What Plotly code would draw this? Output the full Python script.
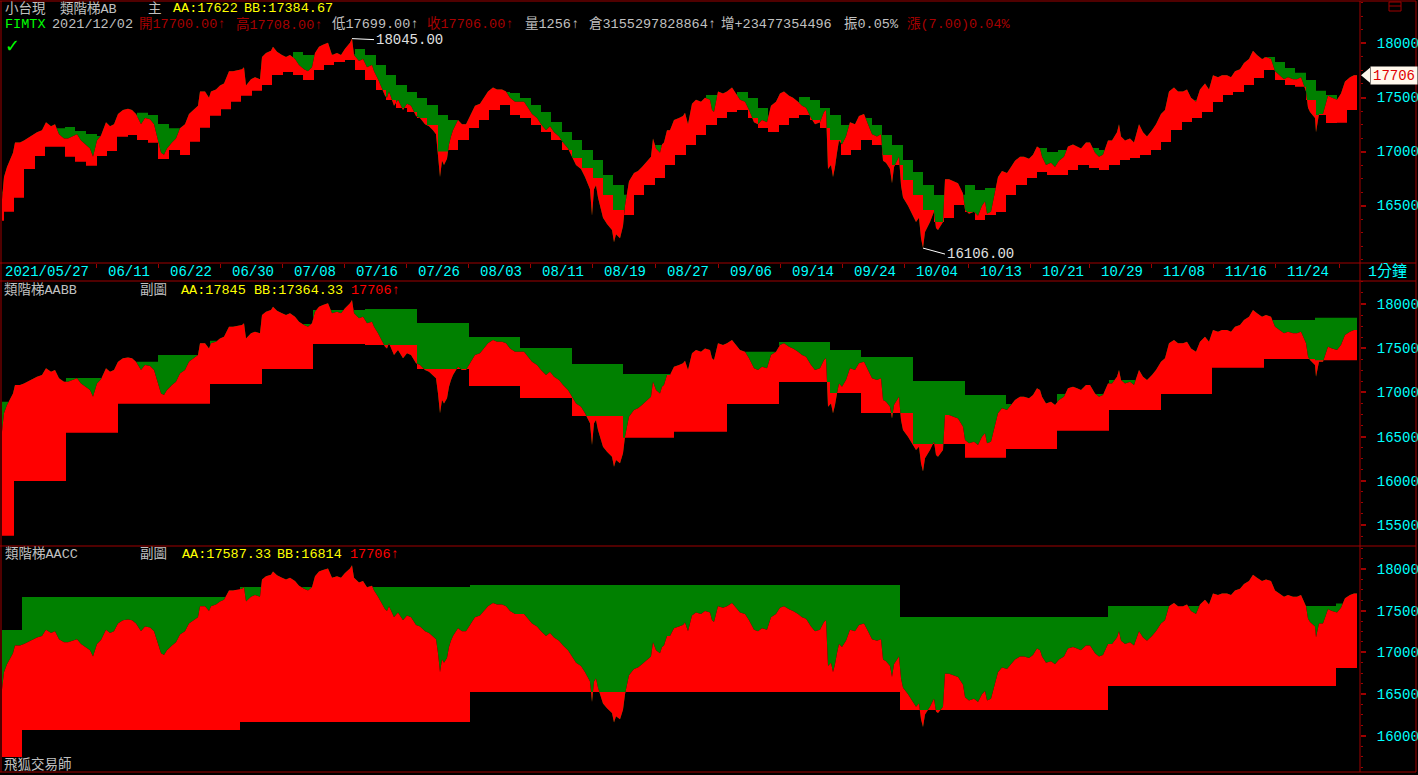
import plotly.graph_objects as go

W, H = 1418, 775
X_END = 1357

# ---- price path (chart column index of 1-min bars, price) ----
bar = [2, 4, 7, 13, 15, 20, 24, 29, 33, 37, 42, 46, 51, 55, 59, 64, 68, 73, 77, 81, 86, 90, 93, 97, 101, 106, 110, 114,
       118, 123, 128, 132, 136, 141, 145, 150, 154, 158, 161, 164, 167, 172, 176, 180, 185, 189, 194, 198, 200, 205, 209,
       211, 216, 220, 224, 229, 233, 238, 242, 244, 246, 251, 255, 260, 262, 266, 271, 273, 277, 282, 286, 290, 295, 299,
       304, 308, 312, 315, 319, 323, 328, 332, 337, 341, 345, 350, 352, 354, 359, 363, 367, 372, 374, 378, 383, 385, 387,
       389, 394, 398, 403, 407, 411, 416, 420, 425, 429, 433, 436, 438, 440, 442, 444, 447, 449, 451, 453, 458, 462, 466,
       469, 471, 475, 480, 484, 488, 493, 497, 502, 506, 510, 515, 519, 524, 528, 532, 537, 541, 546, 550, 554, 559, 563,
       568, 572, 576, 581, 585, 590, 592, 594, 596, 598, 603, 607, 612, 614, 616, 620, 623, 625, 629, 634, 638, 642, 647,
       651, 653, 656, 660, 662, 664, 667,
       670, 674, 679, 683, 685, 688, 692, 696, 701, 705, 710, 712, 714, 718, 723, 727, 732, 736, 740, 745, 749, 754, 758,
       762, 767, 771, 776, 780, 784, 789, 793, 798, 802, 806, 811, 815, 820, 824, 826, 828, 831, 833, 835, 837, 839, 842,
       846, 850, 855, 859, 864, 868, 872, 877, 881, 883, 886, 890, 892, 894, 899, 901, 903, 908, 912, 916, 919, 921, 923,
       925, 930, 934, 936, 938, 943, 945, 949, 954, 958, 963, 965, 969, 974, 978, 982, 985, 987, 991, 996, 998, 1002,
       1007, 1011, 1015, 1020, 1024, 1029, 1033, 1037, 1040, 1042, 1046, 1051, 1055, 1059, 1064, 1068, 1073, 1077, 1081,
       1086, 1090, 1095, 1099, 1103, 1108, 1112, 1117, 1119, 1121, 1125, 1130, 1134, 1139, 1143, 1147, 1152, 1156, 1161,
       1165, 1169, 1174, 1178, 1183, 1187, 1191, 1196, 1200, 1205, 1209, 1213, 1218, 1222, 1227, 1231, 1235, 1240, 1244,
       1249, 1253, 1257, 1262, 1266, 1271, 1275, 1279, 1284, 1288, 1293, 1297, 1301, 1306, 1308, 1310, 1315, 1316, 1319,
       1323, 1328, 1332, 1337, 1341, 1345, 1350, 1354, 1357]
price = [16556, 16763, 16857, 16989, 17084, 17084, 17102, 17133, 17159, 17178, 17197, 17272, 17234, 17253, 17159, 17121,
         17121, 17140, 17159, 17102, 17065, 17027, 16952, 17102, 17148, 17272, 17234, 17253,
         17347, 17385, 17396, 17385, 17347, 17253, 17310, 17298, 17253, 17102, 16989, 16970, 17027, 17084, 17121, 17215,
         17253, 17347, 17385, 17423, 17555, 17555, 17498,
         17555, 17574, 17611, 17630, 17743, 17743, 17751, 17762, 17781, 17611, 17668, 17687, 17668, 17875, 17913, 17932,
         17970, 17924, 17894, 17875, 17894, 17856, 17800,
         17762, 17743, 17781, 17913, 17970, 17988, 18007, 17894, 17913, 17894, 17951, 18007, 18045, 17894, 17838, 17856,
         17781, 17800, 17743, 17668, 17555, 17517, 17498,
         17555, 17423, 17479, 17385, 17442, 17423, 17329, 17310, 17253, 17234, 17197, 17159, 16989, 16763, 16914, 16876,
         16933, 17065, 17140, 17197, 17291, 17253, 17253,
         17310, 17347, 17423, 17442, 17498, 17555, 17592, 17574, 17574, 17555, 17498, 17461, 17461, 17461, 17404, 17347,
         17310, 17253, 17197, 17234, 17178, 17140, 17084,
         17027, 16952, 16876, 16838, 16763, 16650, 16405, 16650, 16688, 16575, 16386, 16330, 16273, 16160, 16235, 16198,
         16311, 16499, 16725, 16801, 16820, 16857, 16914,
         16952, 17121, 17027, 16989, 17065, 17084, 17197,
         17197, 17291, 17310, 17329, 17359, 17253, 17442, 17479, 17461, 17498, 17479, 17385, 17366, 17555, 17536, 17555,
         17592, 17536, 17479, 17461, 17385, 17272, 17253,
         17291, 17272, 17423, 17461, 17536, 17555, 17517, 17498, 17461, 17423, 17404, 17310, 17253, 17272, 17366, 17385,
         16838, 16876, 16763, 16857, 16989, 17102, 17065,
         17140, 17272, 17253, 17329, 17347, 17253, 17159, 17140, 17159, 16914, 16895, 16838, 16706, 16857, 16952, 16688,
         16575, 16499, 16424, 16348, 16386, 16198, 16106,
         16254, 16348, 16443, 16292, 16273, 16348, 16744, 16744, 16725, 16706, 16612, 16462, 16424, 16443, 16405, 16499,
         16537, 16424, 16443, 16650, 16763, 16820,
         16801, 16857, 16914, 16952, 16952, 16933, 16970, 17046, 17027, 16952, 16876, 16895, 16857, 16914, 16952, 17046,
         17065, 17046, 17027,
         17084, 17084, 16989, 16952, 16970, 17102, 17102, 17178, 17253, 17140, 17102, 17121, 17084, 17253, 17178, 17140,
         17197, 17253, 17347,
         17385, 17555, 17592, 17555, 17555, 17574, 17498, 17461, 17574, 17630, 17574, 17706, 17687, 17706, 17706, 17687,
         17743, 17762, 17819,
         17856, 17932, 17894, 17856, 17875, 17856, 17743, 17706, 17668, 17687, 17668, 17668, 17687, 17555, 17404, 17366,
         17310, 17178, 17347,
         17347, 17517, 17498, 17479, 17536, 17649, 17687, 17706, 17706]

# ---- panel 1 ladder (daily) ----
d_start = [2, 4, 14, 24, 35, 45, 55, 65, 75, 86, 97, 107, 117, 128, 137, 148, 158, 169, 180, 190, 200, 210, 221, 231,
           241, 252, 262, 272, 283, 293, 303, 314, 324, 334, 345, 355, 365, 376, 386, 396, 407, 417, 427, 438, 448, 458,
           469, 479, 489, 500, 510, 520, 531, 541, 551, 562, 572, 582, 593, 603, 613, 624, 634, 644, 655, 665, 675, 686,
           696, 706, 717, 727, 737, 748, 758, 768, 779, 789, 799, 810, 820, 830, 841, 851, 861, 872, 882, 892, 903, 913,
           923, 934, 944, 954, 965, 975, 985, 996, 1006, 1016, 1027, 1037, 1047, 1058, 1068, 1078, 1089, 1099, 1109,
           1120, 1130, 1140, 1151, 1161, 1171, 1182, 1192, 1202, 1213, 1223, 1233, 1244, 1254, 1264, 1275, 1285, 1295,
           1306, 1316, 1326, 1337, 1347]
d_AA = [16628, 16628, 16600, 16900, 17000, 17100, 17215, 17227, 17190, 17162, 17143, 17100, 17200, 17250, 17359, 17338,
        17255, 17215, 17100, 17200, 17300, 17505, 17579, 17550, 17600, 17650, 17700, 17850, 17850, 17921, 17894, 17880,
        17900, 17880, 17900, 17950, 17894, 17801, 17708, 17616, 17551, 17495, 17431, 17338, 17292, 17200, 17280, 17400,
        17500, 17551, 17542, 17495, 17431, 17366, 17273, 17180, 17106, 17014, 16921, 16782, 16690, 16600, 16700, 16850,
        17060, 17000, 17150, 17200, 17350, 17523, 17450, 17480, 17551, 17495, 17403, 17300, 17400, 17420, 17505, 17477,
        17403, 17338, 17245, 17200, 17310, 17245, 17153, 17060, 16921, 16810, 16690, 16597, 16550, 16600, 16690, 16643,
        16662, 16600, 16700, 16800, 16900, 17032, 16995, 17014, 16950, 16980, 17032, 17014, 17000, 17106, 17088, 17100,
        17150, 17250, 17400, 17450, 17477, 17500, 17600, 17620, 17650, 17700, 17800, 17875, 17829, 17773, 17730, 17662,
        17563, 17523, 17450, 17622]
d_BB = [16359, 16442, 16572, 16838, 16958, 17044, 17044, 16952, 16905, 16868, 16958, 17005, 17137, 17153, 17106, 17081,
        16930, 17014, 16968, 17091, 17220, 17331, 17391, 17461, 17517, 17563, 17616, 17708, 17736, 17708, 17662, 17755,
        17801, 17829, 17847, 17755, 17662, 17569, 17477, 17403, 17366, 17310, 17245, 17000, 17014, 17106, 17218, 17292,
        17384, 17431, 17338, 17310, 17245, 17180, 17106, 17014, 16940, 16847, 16755, 16597, 16458, 16412, 16597, 16690,
        16755, 16875, 16968, 17060, 17153, 17245, 17310, 17366, 17384, 17310, 17218, 17180, 17245, 17310, 17338, 17292,
        17218, 17106, 16968, 17014, 17106, 17060, 16968, 16875, 16736, 16597, 16458, 16347, 16384, 16505, 16440, 16366,
        16412, 16440, 16597, 16690, 16755, 16810, 16782, 16782, 16829, 16875, 16847, 16829, 16875, 16921, 16940, 16968,
        17014, 17088, 17199, 17273, 17310, 17366, 17458, 17523, 17551, 17616, 17681, 17755, 17662, 17616, 17600, 17477,
        17338, 17264, 17267, 17385]

# ---- panel 2 ladder (weekly) ----
w_start = [2, 14, 66, 118, 158, 210, 262, 313, 365, 417, 469, 520, 572, 623, 674, 727, 779, 830, 861, 913, 965, 1006,
           1057, 1109, 1161, 1212, 1264, 1315]
w_AA = [16895, 16950, 17163, 17347, 17423, 17585, 17773, 17932, 17943, 17785, 17626, 17502, 17321, 17208, 17150, 17461,
        17570, 17479, 17400, 17129, 16970, 16869, 16982, 17140, 17200, 17500, 17819, 17845]
w_BB = [15380, 15998, 16544, 16872, 16872, 17095, 17265, 17547, 17536, 17265, 17072, 16937, 16733, 16488, 16556, 16869,
        17117, 16993, 16767, 16416, 16262, 16360, 16567, 16801, 16982, 17280, 17378, 17364.33]

# ---- panel 3 ladder (monthly) ----
m_start = [2, 22, 240, 470, 900, 1108, 1336]
m_AA = [17269, 17664, 17784, 17808, 17424, 17556, 17587.33]
m_BB = [15746, 16070, 16166, 16525, 16310, 16597, 16814]

# ---- date axis ----
date_tick = [96, 158, 220, 282, 344, 406, 468, 530, 592, 655, 718, 780, 842, 904, 968, 1030, 1089, 1151, 1213, 1275, 1339]
date_lbl = ["06/11", "06/22", "06/30", "07/08", "07/16", "07/26", "08/03", "08/11", "08/19", "08/27", "09/06",
            "09/14", "09/24", "10/04", "10/13", "10/21", "10/29", "11/08", "11/16", "11/24"]

BORDER = "#a00000"
GREEN = "#008000"
RED = "#ff0000"
CYAN = "#00ffff"
GRAY = "#c0c0c0"
YEL = "#ffff00"
DRED = "#a80000"
FONT = "Liberation Mono, Noto Sans CJK TC, monospace"


def stair(starts, vals):
    return list(starts) + [X_END], list(vals) + [vals[-1]]


fig = go.Figure()
for xa, ya, st, aa, bb in [("x", "y", d_start, d_AA, d_BB), ("x2", "y2", w_start, w_AA, w_BB),
                           ("x3", "y3", m_start, m_AA, m_BB)]:
    sx, sa = stair(st, aa)
    _, sb = stair(st, bb)
    common = dict(xaxis=xa, yaxis=ya, hoverinfo="skip", showlegend=False, mode="lines")
    fig.add_trace(go.Scatter(x=sx, y=sa, line=dict(width=0, shape="hv"), **common))
    fig.add_trace(go.Scatter(x=bar, y=price, line=dict(width=0), fill="tonexty", fillcolor=GREEN, **common))
    fig.add_trace(go.Scatter(x=sx, y=sb, line=dict(width=0, shape="hv"), **common))
    fig.add_trace(go.Scatter(x=bar, y=price, line=dict(width=0), fill="tonexty", fillcolor=RED, **common))


def px(x):
    return x / W


def py(y):
    return 1 - y / H


def yax(dom_top, dom_bot, rng, vals):
    return dict(domain=[py(dom_bot), py(dom_top)], range=rng, side="right", showgrid=False, zeroline=False,
                showline=False, ticks="outside", ticklen=5, tickwidth=2, tickcolor=BORDER,
                tickvals=vals, ticktext=[str(v) for v in vals],
                tickfont=dict(family="Liberation Mono", size=14, color=CYAN), ticklabelstandoff=8,
                minor=dict(ticks="outside", ticklen=2, tickwidth=1, tickcolor=BORDER, dtick=125, tick0=0),
                fixedrange=True)


xdom = [px(2), px(1360)]
fig.update_layout(
    width=W, height=H, margin=dict(l=0, r=0, t=0, b=0), autosize=False,
    paper_bgcolor="black", plot_bgcolor="black", hovermode=False,
    xaxis=dict(domain=xdom, range=[2, 1360], anchor="y", showgrid=False, zeroline=False, showticklabels=False,
               ticks="outside", ticklen=4, tickwidth=1, tickcolor=BORDER, tickvals=date_tick, showline=False,
               fixedrange=True),
    xaxis2=dict(domain=xdom, range=[2, 1360], anchor="y2", matches="x", visible=False),
    xaxis3=dict(domain=xdom, range=[2, 1360], anchor="y3", matches="x", visible=False),
    yaxis=dict(anchor="x", **yax(2, 263, [15968, 18384], [16500, 17000, 17500, 18000])),
    yaxis2=dict(anchor="x2", **yax(281, 546, [15263, 18260], [15500, 16000, 16500, 17000, 17500, 18000])),
    yaxis3=dict(anchor="x3", **yax(546, 772, [15566, 18276], [16000, 16500, 17000, 17500, 18000])),
)

# frame lines
shapes = []
for yy in [1, 263, 281, 546, 772]:
    shapes.append(dict(type="line", xref="paper", yref="paper", x0=0, x1=px(1416), y0=py(yy), y1=py(yy),
                       line=dict(color=BORDER, width=1)))
for xx in [1, 1360, 1416]:
    shapes.append(dict(type="line", xref="paper", yref="paper", x0=px(xx), x1=px(xx), y0=py(772), y1=py(1),
                       line=dict(color=BORDER, width=1)))
shapes.append(dict(type="rect", xref="paper", yref="paper", x0=px(1389), x1=px(1401), y0=py(11), y1=py(2),
                   line=dict(color=BORDER, width=1)))
shapes.append(dict(type="line", xref="paper", yref="paper", x0=px(1389), x1=px(1401), y0=py(6), y1=py(6),
                   line=dict(color=BORDER, width=1)))
# last price tag arrow
last = price[-1]
d = 7.5 / 0.108
shapes.append(dict(type="path", xref="paper", yref="y",
                   path=f"M {px(1361)},{last} L {px(1370)},{last + d} L {px(1370)},{last - d} Z",
                   fillcolor="#fff8ec", line=dict(width=0)))
fig.update_layout(shapes=shapes)

ann = []


def txt(x, y, s, color, size=13.5, family=FONT, anchor="left"):
    ann.append(dict(x=px(x), y=py(y), xref="paper", yref="paper", text=s, showarrow=False, xanchor=anchor,
                    yanchor="middle", font=dict(family=family, size=size, color=color)))


# header panel 1
txt(3, 9, "小台現", GRAY)
txt(58, 9, "類階梯AB", GRAY)
txt(146, 9, "主", GRAY)
txt(171, 9, "AA:17622", YEL)
txt(242, 9, "BB:17384.67", YEL)
txt(3, 24, "FIMTX", "#00ff00")
txt(50, 24, "2021/12/02", GRAY)
txt(137, 24, "開17700.00↑", DRED)
txt(234, 24, "高17708.00↑", DRED)
txt(330, 24, "低17699.00↑", GRAY)
txt(425, 24, "收17706.00↑", DRED)
txt(523, 24, "量1256↑", GRAY)
txt(587, 24, "倉3155297828864↑", GRAY)
txt(719, 24, "增+23477354496", GRAY)
txt(842, 24, "振0.05%", GRAY)
txt(905, 24, "漲(7.00)0.04%", DRED)
txt(3, 45, "✓", "#00ff00", size=18, family="DejaVu Sans")
# header panel 2
txt(2, 290, "類階梯AABB", GRAY)
txt(138, 290, "副圖", GRAY)
txt(179, 290, "AA:17845", YEL)
txt(252, 290, "BB:17364.33", YEL)
txt(349, 290, "17706↑", RED)
# header panel 3
txt(3, 554, "類階梯AACC", GRAY)
txt(138, 554, "副圖", GRAY)
txt(180, 554, "AA:17587.33", YEL)
txt(275, 554, "BB:16814", YEL)
txt(348, 554, "17706↑", RED)
txt(2, 764, "飛狐交易師", GRAY)
txt(1366, 272, "1分鐘", CYAN, size=15)

# date labels (drawn just right of their tick)
ann.append(dict(x=bar[0], y=py(272), xref="x", yref="paper", text="2021/05/27", showarrow=False, xanchor="left",
                yanchor="middle", xshift=1, font=dict(family=FONT, size=14, color=CYAN)))
for p_, l_ in zip(date_tick, date_lbl):
    ann.append(dict(x=p_, y=py(272), xref="x", yref="paper", text=l_, showarrow=False, xanchor="left",
                    yanchor="middle", xshift=10, font=dict(family=FONT, size=14, color=CYAN)))

# last price tag
ann.append(dict(x=px(1370), y=last, xref="paper", yref="y", text=f"{last:.0f}", showarrow=False, xanchor="left",
                yanchor="middle", bgcolor="#fff8ec", width=44, height=15,
                font=dict(family="Liberation Mono", size=14, color="#e00000")))

# extremes
imax = price.index(max(price))
imin = price.index(min(price))
ann.append(dict(x=bar[imax], y=price[imax], xref="x", yref="y", text=f"{price[imax]:.2f}", showarrow=True,
                arrowhead=0, arrowwidth=1, arrowcolor="white", ax=22, ay=1, xanchor="left",
                font=dict(family=FONT, size=14, color="#e0e0e0")))
ann.append(dict(x=bar[imin], y=price[imin], xref="x", yref="y", text=f"{price[imin]:.2f}", showarrow=True,
                arrowhead=0, arrowwidth=1, arrowcolor="white", ax=22, ay=6, xanchor="left",
                font=dict(family=FONT, size=14, color="#e0e0e0")))
fig.update_layout(annotations=ann)

fig.write_html("out.html", config={"displayModeBar": False, "staticPlot": True},
               post_script="document.body.style.margin='0px';document.body.style.overflow='hidden';")
